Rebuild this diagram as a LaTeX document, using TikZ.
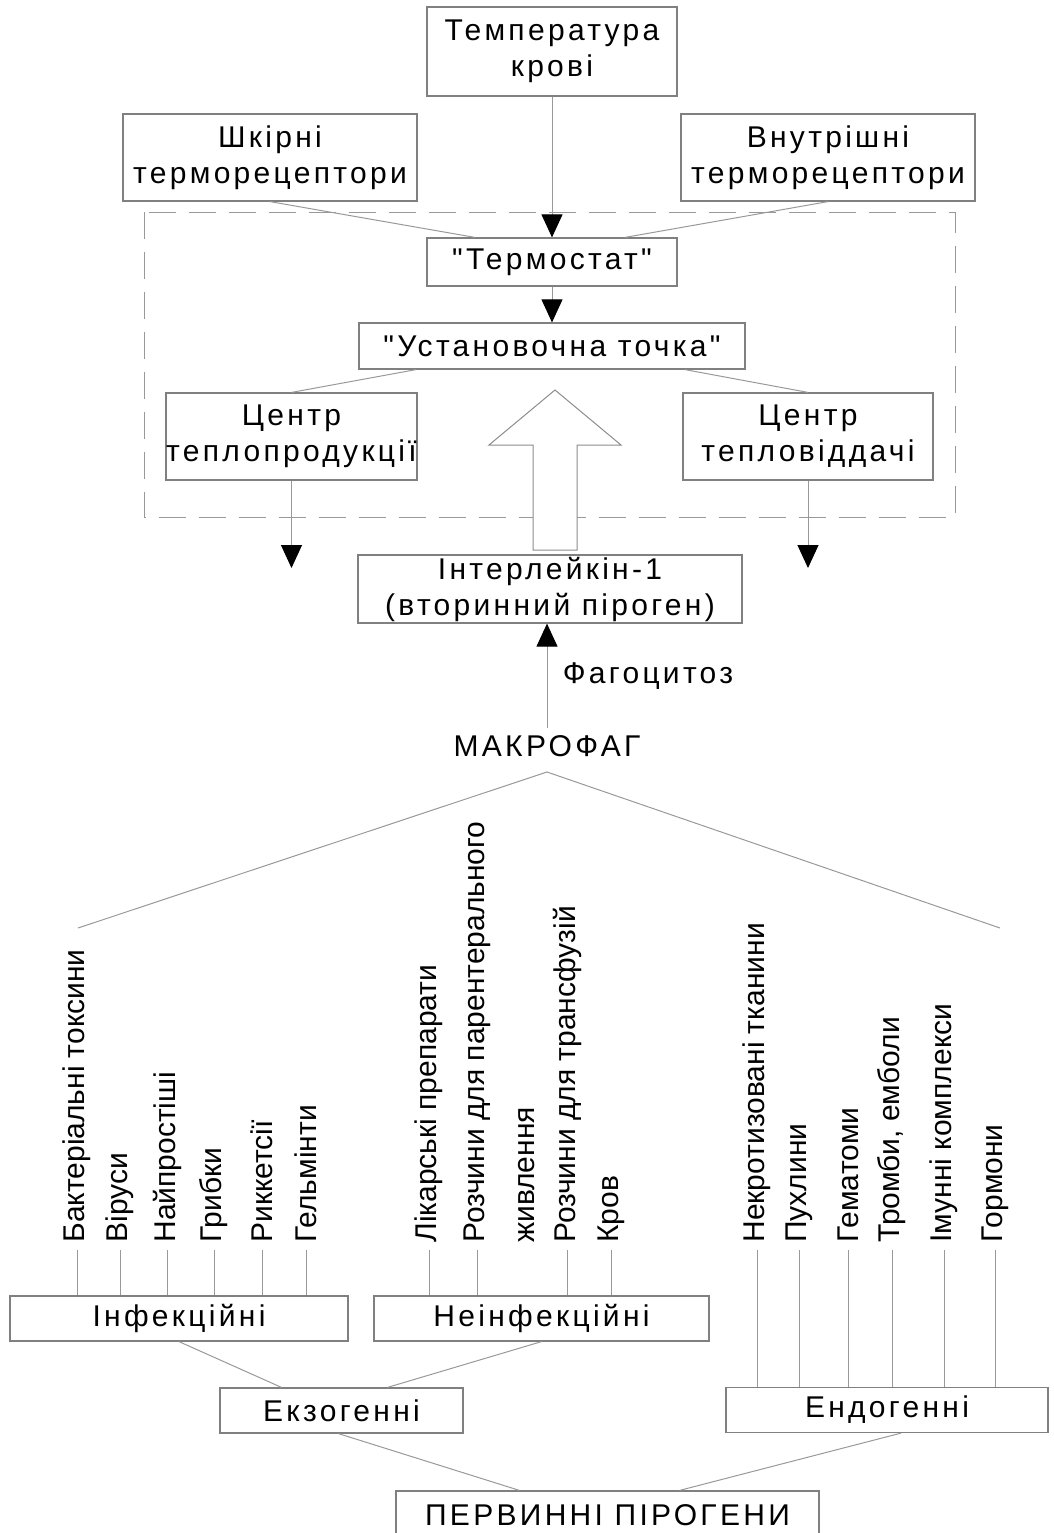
\documentclass[tikz,border=0pt]{standalone}
\usepackage{fontspec}
\setmainfont{Liberation Sans}
\newfontfamily\boxfont[LetterSpace=11]{Liberation Sans}
\usetikzlibrary{arrows.meta}

\tikzset{
  box/.style={draw=black!50, line width=0.6pt, inner sep=0pt, align=center, font=\boxfont\fontsize{15}{18}\selectfont},
  plain/.style={align=center, font=\boxfont\fontsize{15}{18}\selectfont},
  link/.style={draw=black!40, line width=0.5pt},
  arr/.style={link, -{Triangle[length=11.5pt,width=10.5pt,color=black]}},
  zone/.style={draw=black!40, line width=0.5pt, dash pattern=on 13.5pt off 6.5pt},
  hollow/.style={draw=black!45, line width=0.5pt, fill=white},
  lbl/.style={rotate=90, anchor=west, inner sep=0pt, font=\fontsize{15}{18}\selectfont},
}

\begin{document}
\begin{tikzpicture}[x=0.5pt, y=-0.5pt]
\useasboundingbox (0,0) rectangle (1054,1533);

% regulation centre
\draw[zone] (144,212) rectangle (955,517);
\node[box, minimum width=125pt, minimum height=44.5pt] (temp) at (552,51.5) {Температура\\крові};
\node[box, minimum width=147pt, minimum height=43.5pt] (skin) at (270,157.5) {Шкірні\\терморецептори};
\node[box, minimum width=147pt, minimum height=43.5pt] (inner) at (828,157.5) {Внутрішні\\терморецептори};
\node[box, minimum width=125pt, minimum height=24pt] (thermo) at (552,262) {"Термостат"};
\node[box, minimum width=193pt, minimum height=23pt] (setpt) at (552,346) {"Установочна точка"};
\node[box, minimum width=125.5pt, minimum height=43.5pt] (prod) at (291.5,436.5) {Центр\\теплопродукції};
\node[box, minimum width=125pt, minimum height=43.5pt] (loss) at (808,436.5) {Центр\\тепловіддачі};
\node[box, minimum width=192pt, minimum height=34pt] (il) at (550,589) {Інтерлейкін-1\\(вторинний піроген)};
\node[plain] (macro) at (547,746) {МАКРОФАГ};
\node[plain] (fago) at (648,676) {Фагоцитоз};
\coordinate (prodout) at (291.5,568);
\coordinate (lossout) at (808,568);

\draw[link] (skin.south) -- ([xshift=-38.5pt]thermo.north);
\draw[link] (inner.south) -- ([xshift=36.5pt]thermo.north);
\draw[arr] (temp) -- (thermo);
\draw[arr] (thermo) -- (setpt);
\draw[link] ([xshift=-68pt]setpt.south) -- (prod.north);
\draw[link] ([xshift=66.5pt]setpt.south) -- (loss.north);
\draw[arr] (prod.south) -- (prodout);
\draw[arr] (loss.south) -- (lossout);
\draw[hollow] (533,550) -- (533,445) -- (489,445) -- (555,390) -- (621,445) -- (577,445) -- (577,550) -- cycle;
\draw[arr] (macro.north) -- (macro.north |- il.south);

% primary pyrogens
\coordinate (apex) at (547,772);
\coordinate (lftend) at (78,928);
\coordinate (rgtend) at (1000,928);
\draw[link] (lftend) -- (apex) -- (rgtend);

\node[box, minimum width=169pt, minimum height=22.5pt] (inf) at (179,1318.5) {Інфекційні};
\node[box, minimum width=167.5pt, minimum height=22.5pt] (noninf) at (541.5,1318.5) {Неінфекційні};
\node[box, minimum width=121.5pt, minimum height=22.5pt] (exo) at (341.5,1410.5) {Екзогенні};
\node[box, minimum width=161pt, minimum height=22.5pt] (endo) at (887,1410) {Ендогенні};
\node[box, minimum width=211.5pt, minimum height=24.5pt] (prim) at (607.5,1515.5) {ПЕРВИННІ ПІРОГЕНИ};

\node[lbl] (bact) at (77,1243) {Бактеріальні токсини};
\node[lbl] (vir) at (120,1243) {Віруси};
\node[lbl] (prot) at (167,1243) {Найпростіші};
\node[lbl] (fung) at (214,1243) {Грибки};
\node[lbl] (rick) at (262,1243) {Риккетсії};
\node[lbl] (helm) at (306,1243) {Гельмінти};
\node[lbl] (drug) at (429,1243) {Лікарські препарати};
\node[lbl] (parent) at (477,1243) {Розчини для парентерального};
\node[lbl] (feed) at (527,1243) {живлення};
\node[lbl] (transf) at (567,1243) {Розчини для трансфузій};
\node[lbl] (blood) at (611,1243) {Кров};
\node[lbl] (necro) at (757,1243) {Некротизовані тканини};
\node[lbl] (tumor) at (799,1243) {Пухлини};
\node[lbl] (hemat) at (848,1243) {Гематоми};
\node[lbl] (throm) at (892,1243) {Тромби, емболи};
\node[lbl] (immun) at (944,1243) {Імунні комплекси};
\node[lbl] (horm) at (995,1243) {Гормони};

\foreach \n in {bact,vir,prot,fung,rick,helm}
  \draw[link, shorten <=3.5pt] (\n.west) -- (\n.west |- inf.north);
\foreach \n in {drug,parent,transf,blood}
  \draw[link, shorten <=3.5pt] (\n.west) -- (\n.west |- noninf.north);
\foreach \n in {necro,tumor,hemat,throm,immun,horm}
  \draw[link, shorten <=3.5pt] (\n.west) -- (\n.west |- endo.north);

\draw[link] (inf.south) -- ([xshift=-30pt]exo.north);
\draw[link] (noninf.south) -- ([xshift=23pt]exo.north);
\draw[link] ([xshift=-1.5pt]exo.south) -- ([xshift=-44pt]prim.north);
\draw[link] ([xshift=7pt]endo.south) -- ([xshift=36pt]prim.north);
\end{tikzpicture}
\end{document}
